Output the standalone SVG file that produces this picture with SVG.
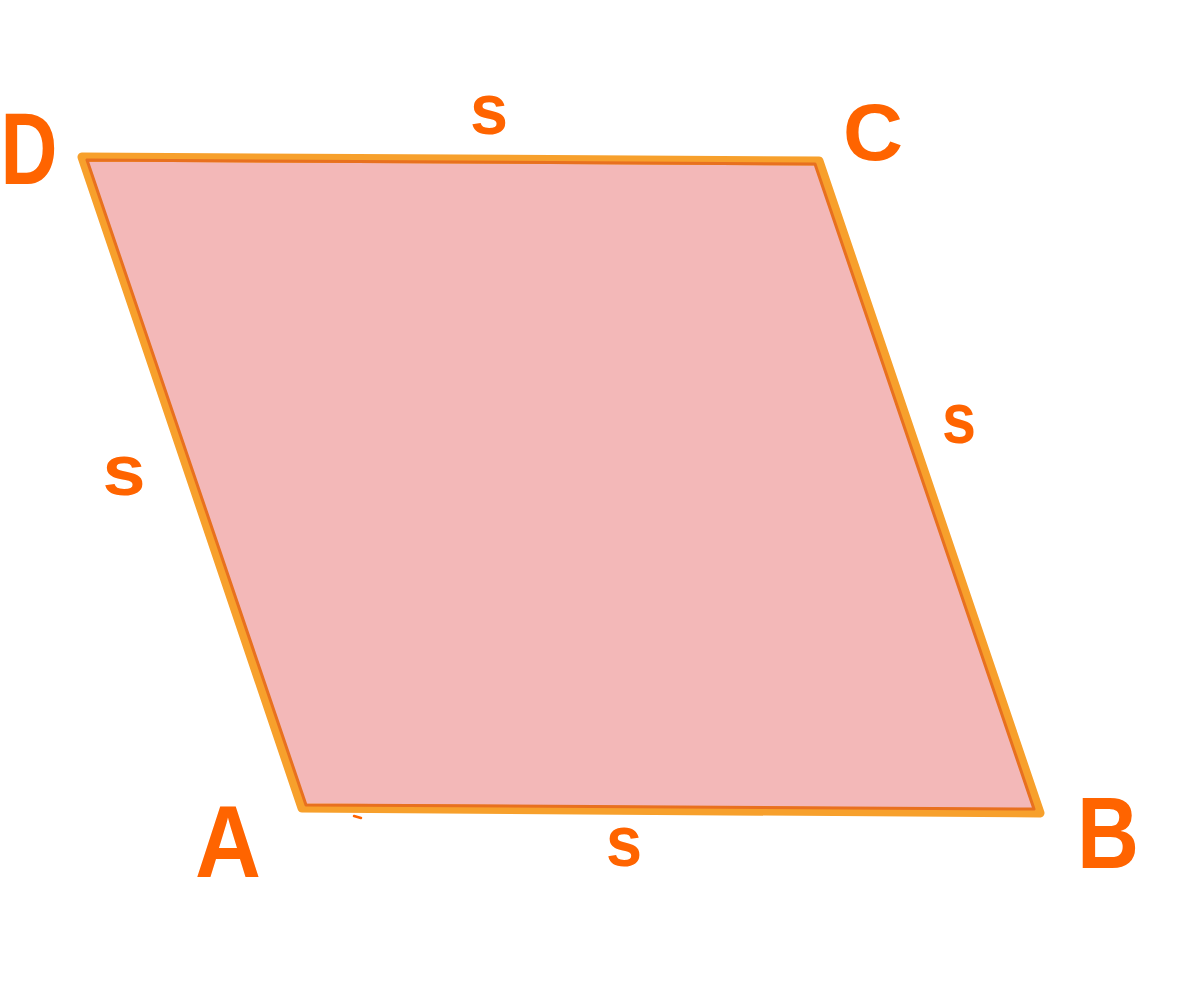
<svg xmlns="http://www.w3.org/2000/svg" width="1189" height="1000" viewBox="0 0 1189 1000">
<style>
.lbl{font-family:"Liberation Sans",Arial,sans-serif;font-weight:bold;fill:#ff6400;text-anchor:middle}
.s{font-size:72px}
.cap{font-size:102px}
</style>
<rect width="1189" height="1000" fill="#ffffff"/>
<g id="rhombus">
<polygon points="82,157 819,161 1040,813 302,808" fill="#f3b8b8" stroke="#f7a02c" stroke-width="9" stroke-linejoin="round"/>
<polygon points="87,160 815,164 1034,809 306,805" fill="none" stroke="#e8701f" stroke-width="3" stroke-linejoin="round"/>
</g>
<g id="mark"><line x1="354" y1="816" x2="361" y2="818" stroke="#ff6400" stroke-width="2.5" stroke-linecap="round"/></g>
<g id="labels">
<text class="lbl cap" x="29" y="184" textLength="57" lengthAdjust="spacingAndGlyphs">D</text>
<text class="lbl" style="font-size:80px" x="873" y="160" textLength="60" lengthAdjust="spacingAndGlyphs">C</text>
<text class="lbl cap" x="1108" y="868" textLength="62" lengthAdjust="spacingAndGlyphs">B</text>
<text class="lbl cap" x="228" y="877" textLength="66" lengthAdjust="spacingAndGlyphs">A</text>
<text class="lbl s" x="489" y="134" textLength="38" lengthAdjust="spacingAndGlyphs">s</text>
<text class="lbl s" x="124" y="495" textLength="43" lengthAdjust="spacingAndGlyphs">s</text>
<text class="lbl s" x="959" y="443" textLength="34" lengthAdjust="spacingAndGlyphs">s</text>
<text class="lbl s" x="624" y="866" textLength="36" lengthAdjust="spacingAndGlyphs">s</text>
</g>
</svg>
